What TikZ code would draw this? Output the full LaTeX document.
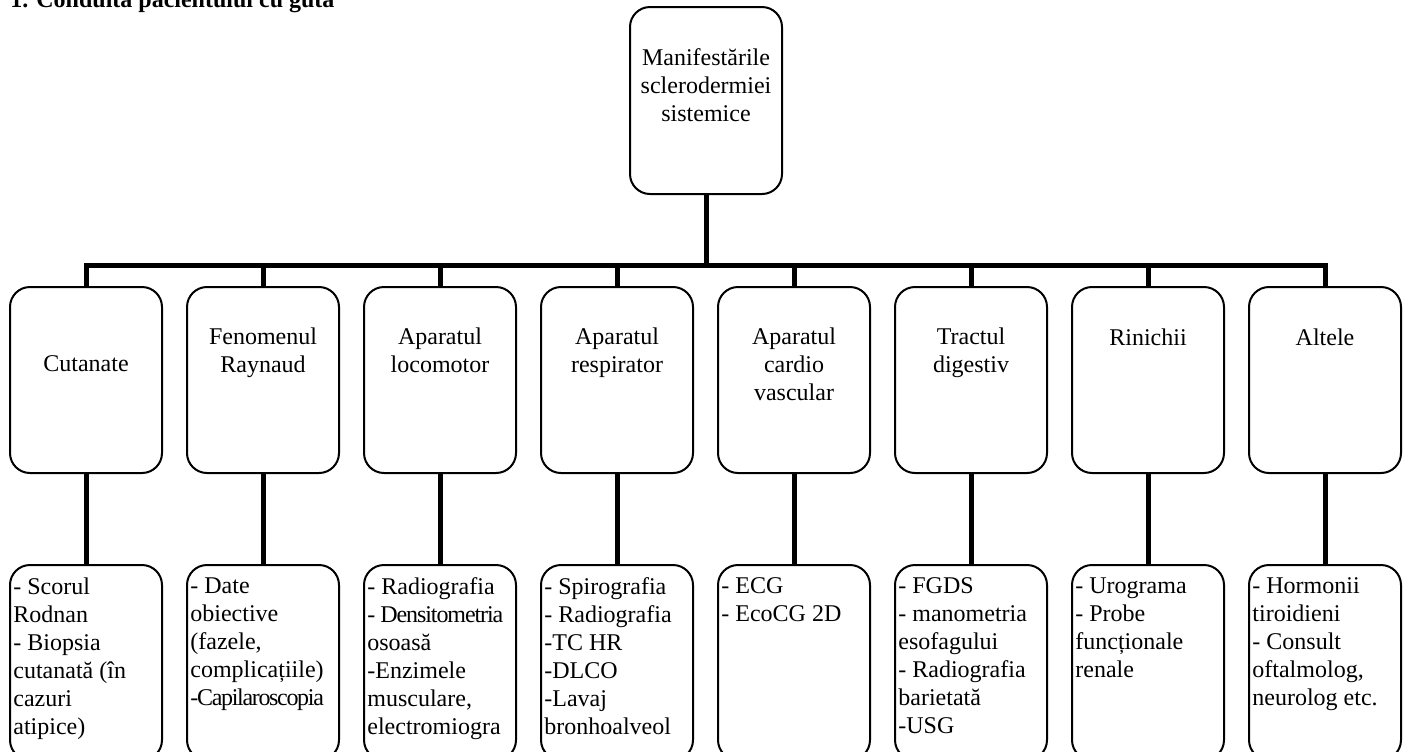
\documentclass[tikz,border=0pt]{standalone}
\usepackage{fontspec}
\setmainfont{Liberation Serif}
\usetikzlibrary{positioning}

\newcommand{\tight}[2]{{\addfontfeature{LetterSpace=#1}#2}}

\tikzset{
  box/.style={draw, line width=1pt, rounded corners=10pt, minimum width=76pt, inner sep=0pt},
  conn/.style={line width=2.5pt},
  head/.style={inner sep=0pt, align=center},
  tests/.style={inner sep=0pt, align=left},
}

\begin{document}
\begin{tikzpicture}[x=0.5pt,y=-0.5pt,font=\fontsize{12}{14}\selectfont]
	\useasboundingbox (0,0) rectangle (1408,751);
	\clip (0,0) rectangle (1408,751);
	
	\node[anchor=base west, inner sep=0pt, font=\fontsize{12}{14}\selectfont\bfseries] (title) at (10,7.5) {1. Conduita pacientului cu gută};
	
	% top box
	\node[box, minimum height=93.5pt] (top) at (706,100.5) {};
	\node[head, below=21pt of top.north] (toptxt) {Manifestările\\sclerodermiei\\sistemice};
	
	% groups and tests
	\foreach \i in {1,...,8}
	\node[box, minimum height=93pt] (c\i) at ({86+177*(\i-1)},380) {};
	\foreach \i in {1,...,8}
	\node[box, minimum height=97.5pt] (d\i) at ({86+177*(\i-1)},662.5) {};
	
	\node[head, below=34.5pt of c1.north] (g1) {Cutanate};
	\node[head, below=20.8pt of c2.north] (g2) {Fenomenul\\Raynaud};
	\node[head, below=20.8pt of c3.north] (g3) {Aparatul\\locomotor};
	\node[head, below=20.8pt of c4.north] (g4) {Aparatul\\respirator};
	\node[head, below=20.8pt of c5.north] (g5) {Aparatul\\cardio\\vascular};
	\node[head, below=20.8pt of c6.north] (g6) {Tractul\\digestiv};
	\node[head, below=21.3pt of c7.north] (g7) {Rinichii};
	\node[head, below=21.3pt of c8.north] (g8) {Altele};
	
	\node[tests, below right=6.8pt and 2pt of d1.north west] (t1) {- Scorul\\Rodnan\\- Biopsia\\cutanată (în\\cazuri\\atipice)};
	\node[tests, below right=6.8pt and 2pt of d2.north west] (t2) {- Date\\obiective\\(fazele,\\complicațiile)\\\tight{-5.5}{-Capilaroscopia}};
	\node[tests, below right=6.8pt and 2pt of d3.north west] (t3) {- Radiografia\\\tight{-4.5}{- Densitometria}\\osoasă\\-Enzimele\\musculare,\\electromiogra};
	\node[tests, below right=6.8pt and 2pt of d4.north west] (t4) {- Spirografia\\- Radiografia\\-TC HR\\-DLCO\\-Lavaj\\bronhoalveol};
	\node[tests, below right=6.8pt and 2pt of d5.north west] (t5) {- ECG\\- EcoCG 2D};
	\node[tests, below right=6.8pt and 2pt of d6.north west] (t6) {- FGDS\\- manometria\\esofagului\\- Radiografia\\barietată\\-USG};
	\node[tests, below right=6.8pt and 2pt of d7.north west] (t7) {- Urograma\\- Probe\\funcționale\\renale};
	\node[tests, below right=6.8pt and 2pt of d8.north west] (t8) {- Hormonii\\tiroidieni\\- Consult\\oftalmolog,\\neurolog etc.};
	
	% connectors
	\coordinate (bar) at (706,265);
	\draw[conn] (top.south) -- (top.south |- bar);
	\draw[conn] (c1.north) -- (c1.north |- bar) -- (c8.north |- bar) -- (c8.north);
	\foreach \i in {2,...,7}
	\draw[conn] (c\i.north) -- (c\i.north |- bar);
	\foreach \i in {1,...,8}
	\draw[conn] (c\i.south) -- (d\i.north);
\end{tikzpicture}
\end{document}
